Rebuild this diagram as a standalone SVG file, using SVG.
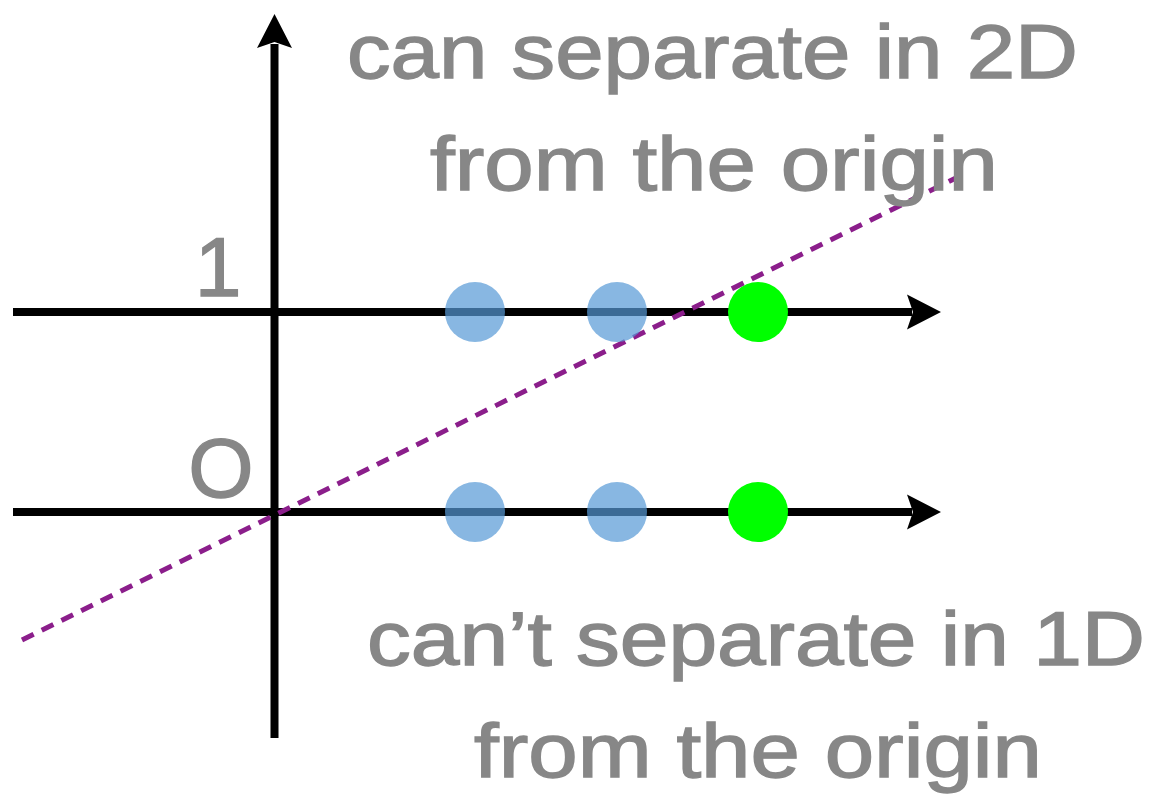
<svg xmlns="http://www.w3.org/2000/svg" width="1161" height="797" viewBox="0 0 1161 797">
<style>
.axis{stroke:#000;stroke-width:8;fill:none}
.head{fill:#000}
.lbl{font-family:"Liberation Sans",Arial,sans-serif;font-size:76px;fill:#878787;stroke:#878787;stroke-width:1.4}
.num{font-family:"Liberation Sans",Arial,sans-serif;font-size:84px;fill:#878787;stroke:#878787;stroke-width:1.4}
.blue{fill:#5599d6;fill-opacity:0.7}
.green{fill:#00ff00}
.sep{stroke:#8b1e8b;stroke-width:5;stroke-dasharray:13 9;fill:none}
</style>
<rect width="1161" height="797" fill="#fff"/>
<g id="connectors">
<line class="axis" x1="274.5" y1="738" x2="274.5" y2="44"/>
<path class="head" d="M274.5,14 L292,48 L274.5,42 L257,48 Z"/>
<line class="axis" x1="13" y1="312" x2="912" y2="312"/>
<path class="head" d="M941,312 L907,294.5 L913,312 L907,329.5 Z"/>
<line class="axis" x1="13" y1="512" x2="912" y2="512"/>
<path class="head" d="M941,512 L907,494.5 L913,512 L907,529.5 Z"/>
<line class="sep" x1="22" y1="640" x2="968" y2="172"/>
</g>
<g id="points">
<circle class="blue" cx="475" cy="312" r="30"/>
<circle class="blue" cx="617" cy="312" r="30"/>
<circle class="green" cx="758" cy="312" r="30"/>
<circle class="blue" cx="475" cy="512" r="30"/>
<circle class="blue" cx="617" cy="512" r="30"/>
<circle class="green" cx="758" cy="512" r="30"/>
</g>
<g id="labels">
<text class="num" x="218" y="296" text-anchor="middle">1</text>
<text class="num" x="221" y="497" text-anchor="middle">O</text>
</g>
<g id="top-text">
<text class="lbl" x="347" y="78" textLength="731" lengthAdjust="spacingAndGlyphs">can separate in 2D</text>
<text class="lbl" x="430" y="190" textLength="568" lengthAdjust="spacingAndGlyphs">from the origin</text>
</g>
<g id="bottom-text">
<text class="lbl" x="367" y="665" textLength="778" lengthAdjust="spacingAndGlyphs">can’t separate in 1D</text>
<text class="lbl" x="474" y="777" textLength="568" lengthAdjust="spacingAndGlyphs">from the origin</text>
</g>
</svg>
